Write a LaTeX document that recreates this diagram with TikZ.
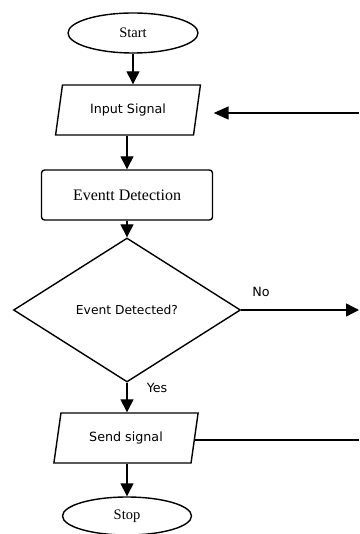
\documentclass[tikz,border=0pt]{standalone}
\usepackage{fontspec}
\setmainfont{Liberation Serif}
\newfontfamily\sansf{DejaVu Sans}
\usetikzlibrary{shapes.geometric,arrows.meta}
\begin{document}
\begin{tikzpicture}[x=1pt,y=-1pt,
  every path/.style={line width=1.4pt},
  term/.style={draw,ellipse,inner sep=0pt,minimum width=130pt,minimum height=40pt,font=\fontsize{14.5}{16}\selectfont},
  io/.style={draw,trapezium,trapezium left angle=72,trapezium right angle=108,trapezium stretches=true,minimum width=145pt,minimum height=50pt,inner sep=0pt,font=\sansf\fontsize{12.7}{14}\selectfont},
  proc/.style={draw,rectangle,rounded corners=3pt,minimum width=171pt,minimum height=50pt,inner sep=0pt,font=\fontsize{16}{18}\selectfont},
  decide/.style={draw,diamond,aspect=1.58,minimum width=227pt,minimum height=144pt,inner sep=0pt,font=\sansf\fontsize{12.3}{14}\selectfont},
  lbl/.style={font=\sansf\fontsize{12.7}{14}\selectfont,inner sep=0pt},
  arr/.style={-{Triangle[length=13pt,width=13pt]}}]
\useasboundingbox (0,0) rectangle (359,534);
\node[term] (start) at (133,33) {Start};
\node[io] (in) at (128,110) {Input Signal};
\node[proc] (box) at (127,195) {Eventt Detection};
\node[decide] (dec) at (127,310) {Event Detected?};
\node[io] (send) at (126,438) {Send signal};
\node[term,minimum width=129pt,minimum height=38pt] (stop) at (127,516) {Stop};
\coordinate (rin) at (359,113);
\coordinate (rno) at (359,310);
\coordinate (rsend) at (359,440);
\node[lbl] (no) at (261,292) {No};
\node[lbl] (yes) at (157,388) {Yes};
\draw[arr] (start.south) -- (start.south |- in.north);
\draw[arr] (in.south -| box.north) -- (box.north);
\draw[arr] (box.south) -- (dec.north);
\draw[arr] (dec.south) -- (send.north -| dec.south);
\draw[arr] (send.south -| stop.north) -- (stop.north);
\draw[-{Triangle[length=15pt,width=13pt]},shorten >=16pt] (rin) -- (in.east |- rin);
\draw[arr] (dec.east) -- (rno);
\draw (send.east |- rsend) -- (rsend);
\end{tikzpicture}
\end{document}
